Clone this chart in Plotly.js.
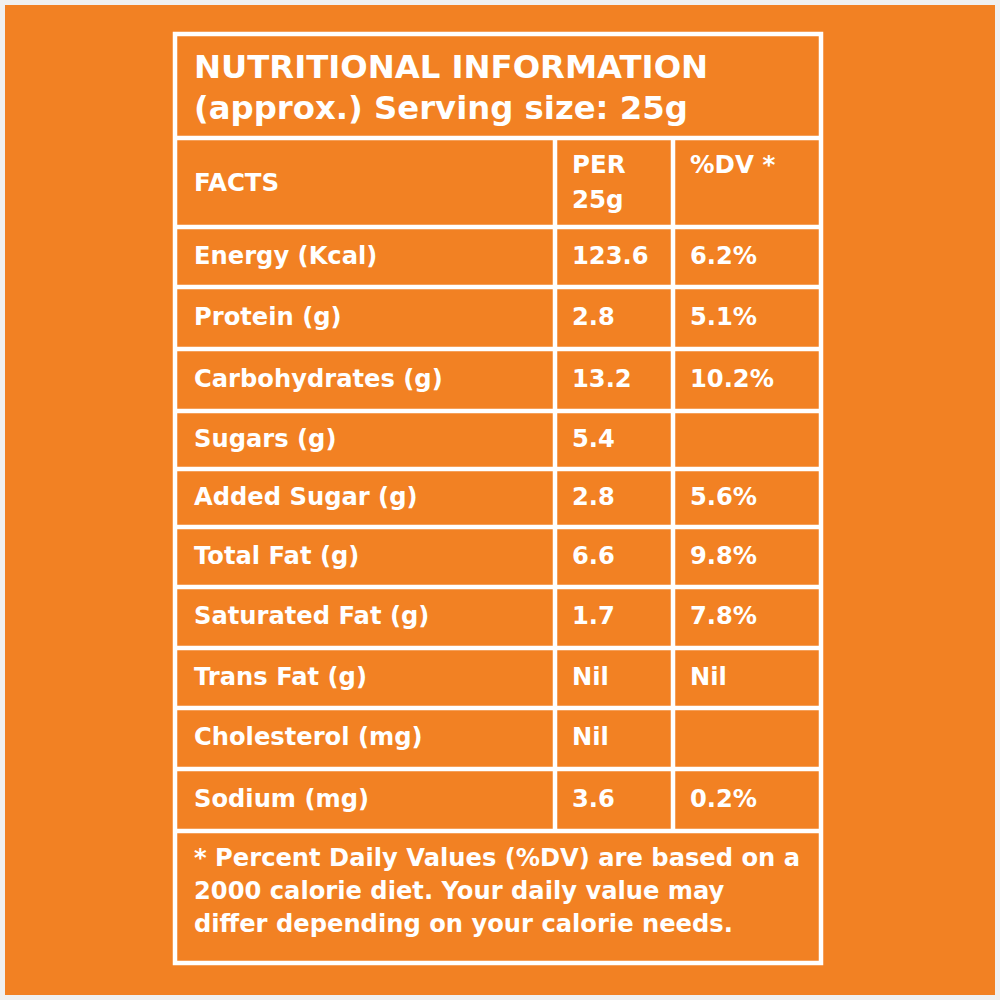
<!DOCTYPE html>
<html>
<head>
<meta charset="utf-8">
<script src="https://cdn.plot.ly/plotly-3.0.1.min.js"></script>
<style>
html,body{margin:0;padding:0;background:#f0f0f0;}
#chart{width:1000px;height:1000px;}
</style>
</head>
<body>
<div id="chart"></div>
<script>
// ---- data ----
const titleLines = ["NUTRITIONAL INFORMATION", "(approx.) Serving size: 25g"];
const headerFacts = "FACTS";
const headerPer = ["PER", "25g"];
const headerDV = "%DV *";
const nutrients = ["Energy (Kcal)", "Protein (g)", "Carbohydrates (g)", "Sugars (g)", "Added Sugar (g)",
  "Total Fat (g)", "Saturated Fat (g)", "Trans Fat (g)", "Cholesterol (mg)", "Sodium (mg)"];
const perServing = ["123.6", "2.8", "13.2", "5.4", "2.8", "6.6", "1.7", "Nil", "Nil", "3.6"];
const dailyValue = ["6.2%", "5.1%", "10.2%", "", "5.6%", "9.8%", "7.8%", "Nil", "", "0.2%"];
const noteLines = ["* Percent Daily Values (%DV) are based on a", "2000 calorie diet. Your daily value may", "differ depending on your calorie needs."];

// ---- layout geometry (pixels) ----
const ORANGE = "#F28123";
const WHITE = "#FFFFFF";
const FONT = "DejaVu Sans";
const boxL = 175, boxR = 821, boxT = 34, boxB = 963;
const colX = [555, 673];
const rowB = [138, 227, 287, 349, 411, 469, 527, 587, 648, 708, 769, 831];
const textX = [194, 572, 690];

const rowCenters = nutrients.map((_, i) => (rowB[i + 1] + rowB[i + 2]) / 2 + 0.5);

const shapes = [];
shapes.push({type: "rect", xref: "paper", yref: "paper", x0: 0.005, x1: 0.995, y0: 0.005, y1: 0.995,
  fillcolor: ORANGE, line: {width: 0}, layer: "below"});
shapes.push({type: "rect", x0: boxL, x1: boxR, y0: boxT, y1: boxB, line: {color: WHITE, width: 4.5}});
rowB.forEach(y => shapes.push({type: "line", x0: boxL, x1: boxR, y0: y, y1: y, line: {color: WHITE, width: 4.5}}));
colX.forEach(x => shapes.push({type: "line", x0: x, x1: x, y0: rowB[0], y1: rowB[rowB.length - 1], line: {color: WHITE, width: 4.5}}));

const bodyFont = {family: FONT, size: 24.2, color: WHITE, weight: "bold"};
const headFont = {family: FONT, size: 24.5, color: WHITE, weight: "bold"};
const traces = [
  {x: nutrients.map(() => textX[0]), y: rowCenters, text: nutrients},
  {x: perServing.map(() => textX[1]), y: rowCenters, text: perServing},
  {x: dailyValue.map(() => textX[2]), y: rowCenters, text: dailyValue},
  {x: [textX[0], textX[1], textX[1], textX[2]], y: [185, 167, 202, 167], text: [headerFacts, headerPer[0], headerPer[1], headerDV], font: headFont},
  {x: [textX[0], textX[0]], y: [70, 111], text: titleLines, font: {family: FONT, size: 32.3, color: WHITE, weight: "bold"}},
  {x: noteLines.map(() => textX[0]), y: [859.5, 893, 926], text: noteLines}
].map(t => ({type: "scatter", mode: "text", x: t.x, y: t.y, text: t.text, textposition: "middle right",
  textfont: t.font || bodyFont, hoverinfo: "skip", showlegend: false}));

const layout = {
  width: 1000, height: 1000,
  margin: {l: 0, r: 0, t: 0, b: 0},
  paper_bgcolor: "#f0f0f0", plot_bgcolor: "rgba(0,0,0,0)",
  xaxis: {range: [0, 1000], visible: false, fixedrange: true},
  yaxis: {range: [1000, 0], visible: false, fixedrange: true},
  shapes: shapes,
  showlegend: false
};
Plotly.newPlot("chart", traces, layout, {staticPlot: true, displayModeBar: false});
</script>
</body>
</html>
